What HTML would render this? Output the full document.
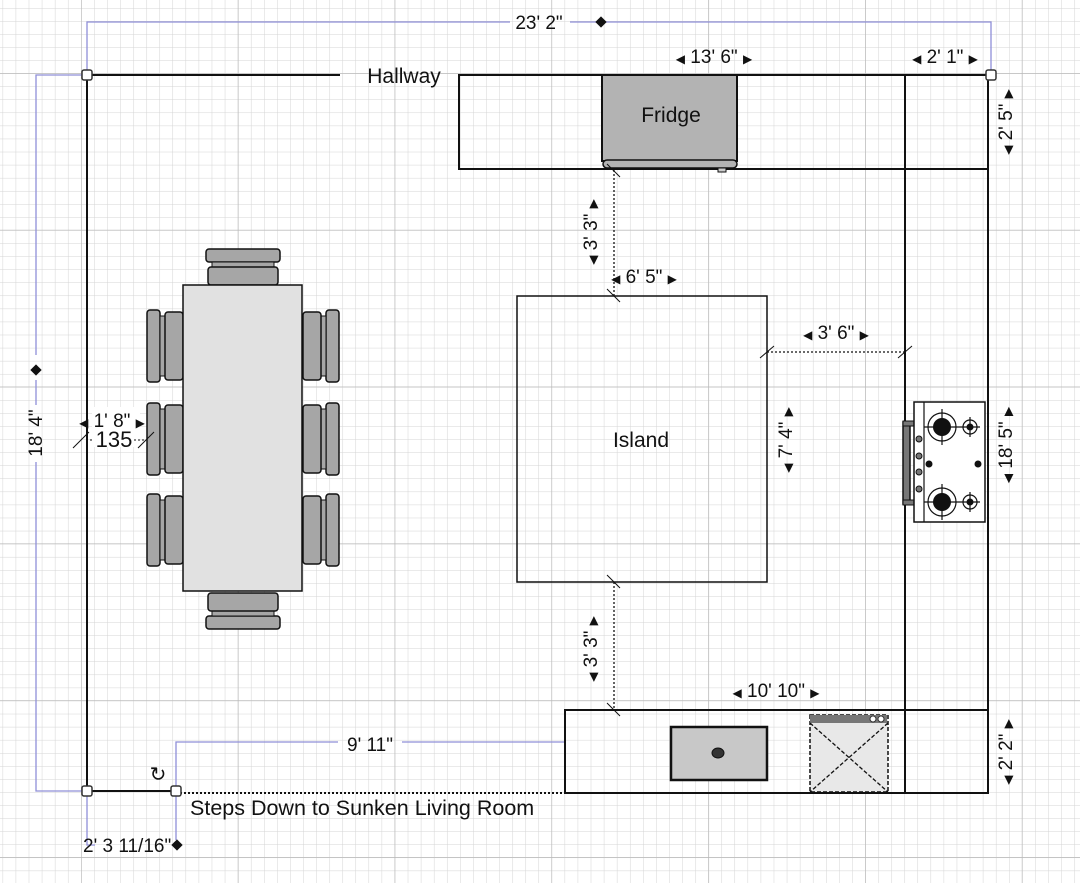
<!DOCTYPE html>
<html><head><meta charset="utf-8"><style>
html,body{margin:0;padding:0;background:#fff}
svg{display:block}
text{font-family:"Liberation Sans",Arial,sans-serif;fill:#111}
.a{font-size:12px}
</style></head><body>
<svg width="1080" height="883" viewBox="0 0 1080 883" xmlns="http://www.w3.org/2000/svg">
<defs>
<pattern id="minor" x="2.6" y="8" width="13.07" height="13.07" patternUnits="userSpaceOnUse">
<path d="M0 0V13.07M0 0H13.07" stroke="#d4d4d4" stroke-width="1" fill="none"/>
</pattern>
<pattern id="major" x="81" y="73" width="156.8" height="156.8" patternUnits="userSpaceOnUse">
<path d="M0 0V156.8M0 0H156.8" stroke="#b8b8b8" stroke-width="1.3" fill="none"/>
</pattern>
<g id="chairL">
<rect x="0" y="0" width="13" height="72" rx="3" fill="#a6a6a6" stroke="#111" stroke-width="1.5"/>
<rect x="13" y="6" width="5" height="60" fill="#a6a6a6" stroke="#111" stroke-width="1"/>
<rect x="18" y="2" width="18" height="68" rx="3" fill="#a6a6a6" stroke="#111" stroke-width="1.5"/>
</g>
<g id="chairT">
<rect x="0" y="0" width="74" height="13" rx="3" fill="#a6a6a6" stroke="#111" stroke-width="1.5"/>
<rect x="6" y="13" width="62" height="5" fill="#a6a6a6" stroke="#111" stroke-width="1"/>
<rect x="2" y="18" width="70" height="18" rx="3" fill="#a6a6a6" stroke="#111" stroke-width="1.5"/>
</g>
</defs>
<rect width="1080" height="883" fill="#fff"/>
<rect width="1080" height="883" fill="url(#minor)"/>
<rect width="1080" height="883" fill="url(#major)"/>

<g stroke="#8f8fd8" stroke-width="1.3" fill="none">
<path d="M87 75V22H510M570 22H991V75"/>
<path d="M87 75H36V355M36 380V405M36 462V791H87"/>
<path d="M176 791V742H338M402 742H565V793"/>
<path d="M87 791V845H95"/>
<path d="M176 791V840"/>
</g>
<rect x="597" y="18" width="8" height="8" transform="rotate(45 601 22)" fill="#111"/>
<rect x="32" y="366" width="8" height="8" transform="rotate(45 36 370)" fill="#111"/>
<rect x="173" y="841" width="8" height="8" transform="rotate(45 177 845)" fill="#111"/>
<text x="539" y="29" font-size="19" text-anchor="middle">23' 2"</text>
<text x="42" y="433" font-size="19" text-anchor="middle" transform="rotate(-90 42 433)">18' 4"</text>
<text x="370" y="751" font-size="19" text-anchor="middle">9' 11"</text>
<text x="83" y="852" font-size="19">2' 3 11/16"</text>

<g stroke="#111" stroke-width="2" fill="none">
<path d="M87 75H340"/>
<path d="M87 75V791H176"/>
<rect x="459" y="75" width="529" height="94"/>
<path d="M905 75V793"/>
<path d="M988 75V793"/>
<rect x="565" y="710" width="423" height="83"/>
</g>
<path d="M176 793H565" stroke="#111" stroke-width="2" stroke-dasharray="2 2"/>
<text x="404" y="83" font-size="21" text-anchor="middle">Hallway</text>

<rect x="602" y="75" width="135" height="86" fill="#b3b3b3" stroke="#111" stroke-width="2"/>
<rect x="603" y="160" width="134" height="8" rx="4" fill="#b3b3b3" stroke="#111" stroke-width="1.5"/>
<rect x="718" y="168" width="8" height="4" fill="#ccc" stroke="#111" stroke-width="1"/>
<text x="671" y="122" font-size="21" text-anchor="middle">Fridge</text>

<text x="714" y="63" font-size="19" text-anchor="middle"><tspan class="a">◀</tspan> 13' 6" <tspan class="a">▶</tspan></text>
<text x="945" y="63" font-size="19" text-anchor="middle"><tspan class="a">◀</tspan> 2' 1" <tspan class="a">▶</tspan></text>
<text x="1012" y="122" font-size="19" text-anchor="middle" transform="rotate(-90 1012 122)"><tspan class="a">◀</tspan> 2' 5" <tspan class="a">▶</tspan></text>
<text x="1012" y="445" font-size="19" text-anchor="middle" transform="rotate(-90 1012 445)"><tspan class="a">◀</tspan> 18' 5" <tspan class="a">▶</tspan></text>
<text x="1012" y="752" font-size="19" text-anchor="middle" transform="rotate(-90 1012 752)"><tspan class="a">◀</tspan> 2' 2" <tspan class="a">▶</tspan></text>

<rect x="517" y="296" width="250" height="286" fill="none" stroke="#111" stroke-width="1.5"/>
<text x="641" y="447" font-size="21" text-anchor="middle">Island</text>
<g stroke="#111" stroke-width="1.3" stroke-dasharray="2 2" fill="none">
<path d="M614 170V296"/><path d="M614 582V710"/><path d="M767 352H905"/>
</g>
<g stroke="#111" stroke-width="1">
<path d="M607 164L620 177M607 289L620 302M607 575L620 588M607 703L620 716M760 358L774 346M898 358L912 346"/>
</g>
<text x="597" y="232" font-size="19" text-anchor="middle" transform="rotate(-90 597 232)"><tspan class="a">◀</tspan> 3' 3" <tspan class="a">▶</tspan></text>
<text x="597" y="649" font-size="19" text-anchor="middle" transform="rotate(-90 597 649)"><tspan class="a">◀</tspan> 3' 3" <tspan class="a">▶</tspan></text>
<text x="644" y="283" font-size="19" text-anchor="middle"><tspan class="a">◀</tspan> 6' 5" <tspan class="a">▶</tspan></text>
<text x="836" y="339" font-size="19" text-anchor="middle"><tspan class="a">◀</tspan> 3' 6" <tspan class="a">▶</tspan></text>
<text x="792" y="440" font-size="19" text-anchor="middle" transform="rotate(-90 792 440)"><tspan class="a">◀</tspan> 7' 4" <tspan class="a">▶</tspan></text>
<text x="776" y="697" font-size="19" text-anchor="middle"><tspan class="a">◀</tspan> 10' 10" <tspan class="a">▶</tspan></text>

<rect x="903" y="422" width="7" height="82" fill="#777" stroke="#111" stroke-width="1.5"/>
<rect x="903" y="421" width="11" height="5" fill="#777" stroke="#111" stroke-width="1"/>
<rect x="903" y="500" width="11" height="5" fill="#777" stroke="#111" stroke-width="1"/>
<rect x="914" y="402" width="71" height="120" fill="#fff" stroke="#111" stroke-width="1.5"/>
<path d="M924 402V522" stroke="#111" stroke-width="1.2"/>
<g fill="#777" stroke="#111" stroke-width="1"><circle cx="919" cy="439" r="3"/><circle cx="919" cy="456" r="3"/><circle cx="919" cy="472" r="3"/><circle cx="919" cy="489" r="3"/></g>
<g stroke="#111" stroke-width="1.2" fill="none">
<circle cx="942" cy="427" r="14"/><circle cx="942" cy="502" r="14"/>
<circle cx="970" cy="427" r="7"/><circle cx="970" cy="502" r="7"/>
<path d="M924 427H960M942 409V445M924 502H960M942 484V520M960 427H980M970 417V437M960 502H980M970 492V512"/>
</g>
<g fill="#111"><circle cx="942" cy="427" r="9"/><circle cx="942" cy="502" r="9"/><circle cx="970" cy="427" r="3.5"/><circle cx="970" cy="502" r="3.5"/><circle cx="929" cy="464" r="3.5"/><circle cx="978" cy="464" r="3.5"/></g>

<rect x="671" y="727" width="96" height="53" fill="#c8c8c8" stroke="#111" stroke-width="2.5"/>
<ellipse cx="718" cy="753" rx="6" ry="5" fill="#333" stroke="#111"/>
<rect x="810" y="715" width="78" height="77" fill="#e8e8e8" stroke="#111" stroke-width="1.5" stroke-dasharray="4 2"/>
<rect x="810" y="715" width="77" height="8" fill="#777"/>
<circle cx="873" cy="719" r="3" fill="#fff" stroke="#333"/><circle cx="881" cy="719" r="3" fill="#fff" stroke="#333"/>
<path d="M810 723L888 792M888 723L810 792" stroke="#111" stroke-width="1.3" stroke-dasharray="4 2"/>

<use href="#chairT" x="206" y="249"/>
<use href="#chairT" x="206" y="249" transform="matrix(1 0 0 -1 0 878)"/>
<use href="#chairL" x="147" y="310"/><use href="#chairL" x="147" y="403"/><use href="#chairL" x="147" y="494"/>
<g transform="matrix(-1 0 0 1 486 0)">
<use href="#chairL" x="147" y="310"/><use href="#chairL" x="147" y="403"/><use href="#chairL" x="147" y="494"/>
</g>
<rect x="183" y="285" width="119" height="306" fill="#e1e1e1" stroke="#111" stroke-width="1.5"/>

<rect x="92" y="407" width="48" height="40" fill="#fff"/>
<text x="112" y="427" font-size="19" text-anchor="middle"><tspan class="a">◀</tspan> 1' 8" <tspan class="a">▶</tspan></text>
<text x="114" y="447" font-size="22" text-anchor="middle">135</text>
<path d="M86 440H94M134 440H146" stroke="#111" stroke-dasharray="2 2"/>
<path d="M73 448L89 432M138 448L154 432" stroke="#111" stroke-width="1"/>

<g fill="#fff" stroke="#333" stroke-width="1.5">
<rect x="82" y="70" width="10" height="10" rx="2"/>
<rect x="986" y="70" width="10" height="10" rx="2"/>
<rect x="82" y="786" width="10" height="10" rx="2"/>
<rect x="171" y="786" width="10" height="10" rx="2"/>
</g>
<text x="158" y="781" font-size="20" text-anchor="middle" fill="#333">↻</text>
<text x="190" y="815" font-size="21.5">Steps Down to Sunken Living Room</text>
</svg>
</body></html>
